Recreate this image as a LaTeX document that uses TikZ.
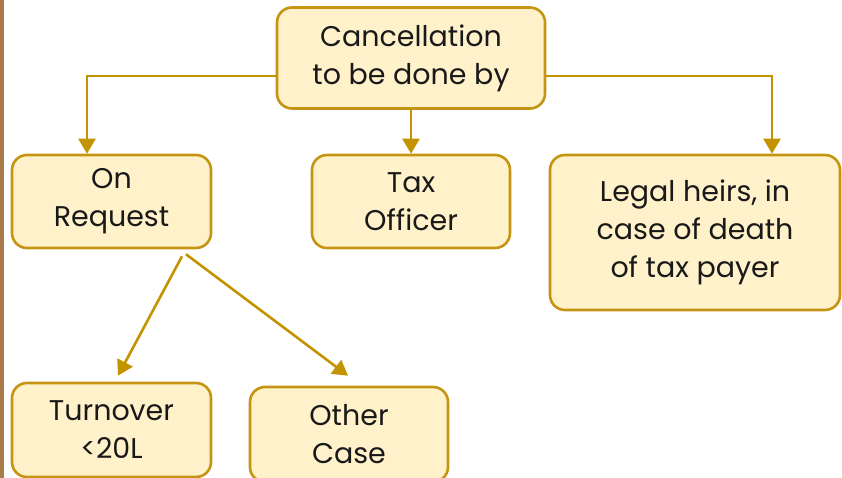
\documentclass[tikz,border=0pt]{standalone}
\usepackage{fontspec}
\setmainfont{Poppins}
\usetikzlibrary{arrows.meta}
\definecolor{boxfill}{HTML}{FFF1CA}
\definecolor{boxdraw}{HTML}{C49412}
\definecolor{linecol}{HTML}{C49300}
\definecolor{sidebar}{HTML}{A97A4A}
\tikzset{
  box/.style={draw=boxdraw, fill=boxfill, line width=2.6pt, rounded corners=15pt,
    align=center, inner sep=0pt, font=\fontsize{28.5}{38}\selectfont, text=black!90},
  conn/.style={draw=linecol, line width=2.6pt},
  arr/.style={conn, -{Triangle[length=15pt,width=17pt]}},
}
\begin{document}
\begin{tikzpicture}[x=1pt,y=-1pt]
\useasboundingbox (0,0) rectangle (842,478);
\fill[white] (0,0) rectangle (842,478);
\fill[sidebar] (0,0) rectangle (4,478);
\node[box, minimum width=268pt, minimum height=101pt] (top) at (411,58) {Cancellation\\to be done by};
\node[box, minimum width=199pt, minimum height=93pt] (onreq) at (111.5,201.5) {On\\Request};
\node[box, minimum width=198pt, minimum height=93pt] (tax) at (411,201.5) {Tax\\Officer};
\node[box, minimum width=290pt, minimum height=155pt] (legal) at (695,232.5) {Legal heirs, in\\case of death\\of tax payer};
\node[box, minimum width=199pt, minimum height=94pt] (turn) at (111.5,430) {Turnover\\<20L};
\node[box, minimum width=198pt, minimum height=95pt] (other) at (349,434.5) {Other\\Case};
\draw[arr] ([shift={(0,18)}]top.west) -| ([shift={(-24.5,0)}]onreq.north);
\draw[arr] ([shift={(0,18)}]top.east) -| ([shift={(77,0)}]legal.north);
\draw[arr] (top.south) -- (tax.north);
\coordinate (s1) at ([shift={(70.5,7)}]onreq.south);
\coordinate (s2) at ([shift={(74.5,5)}]onreq.south);
\draw[arr] (s1) -- ([shift={(6.5,-6)}]turn.north);
\draw[arr] (s2) -- ([shift={(-1,-10)}]other.north);
\end{tikzpicture}
\end{document}
